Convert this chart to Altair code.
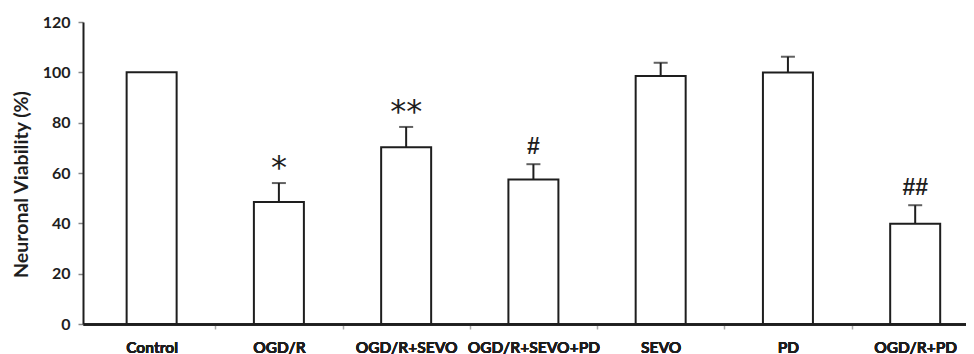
import json
import altair as alt
import pandas as pd

groups = ["Control", "OGD/R", "OGD/R+SEVO", "OGD/R+SEVO+PD", "SEVO", "PD", "OGD/R+PD"]
viability = [100, 48.5, 70.2, 57.4, 98.5, 99.9, 39.8]
errors = [0, 7.5, 8.1, 6.1, 5.3, 6.3, 7.4]
signif = ["", "*", "**", "#", "", "", "##"]
y_ticks = [0, 20, 40, 60, 80, 100, 120]

df = pd.DataFrame({
    "idx": list(range(len(groups))),
    "group": groups,
    "v": viability,
    "e": errors,
    "m": signif,
})

label_expr = "%s[datum.value]" % json.dumps(groups)
xscale = alt.Scale(domain=[-0.5, 6.36], nice=False, zero=False)
yscale = alt.Scale(domain=[0, 120], nice=False)

INK = "#1e1e1e"

y_axis = alt.Axis(
    values=y_ticks, title="Neuronal Viability (%)", grid=False,
    domainColor=INK, domainWidth=2, tickColor="#888888", tickWidth=1.5, tickSize=5,
    labelFont="Lato", labelFontSize=16, labelFontWeight="bold", labelColor=INK,
    labelPadding=8,
    titleFont="Lato", titleFontSize=19.5, titleFontWeight="bold", titleColor=INK,
    titleAngle=-90, titleX=-62, titleY=162, titleAlign="center", titleBaseline="middle",
)

x_label_axis = alt.Axis(
    values=list(range(len(groups))), labelExpr=label_expr, title=None,
    grid=False, ticks=False, domainColor=INK, domainWidth=2,
    labelFont="Lato", labelFontSize=15.5, labelFontWeight="bold", labelColor=INK,
    labelPadding=16, labelBaseline="top", orient="bottom",
)

base = alt.Chart(df)

bars = base.mark_bar(size=50, fill="white", stroke=INK, strokeWidth=2).encode(
    x=alt.X("idx:Q", scale=xscale, axis=x_label_axis),
    y=alt.Y("v:Q", scale=yscale, axis=y_axis),
)

boundary_axis = base.mark_point(opacity=0).encode(
    x=alt.X(
        "idx:Q", scale=xscale,
        axis=alt.Axis(
            values=[i + 0.5 for i in range(len(groups) - 1)], labels=False, title=None,
            grid=False, domain=False, ticks=True, tickColor="#aaaaaa", tickSize=5,
            tickWidth=1.5, orient="bottom",
        ),
    ),
    y=alt.Y("v:Q", scale=yscale, axis=y_axis),
)

err = base.transform_filter("datum.e > 0").transform_calculate(top="datum.v + datum.e")

err_line = err.mark_rule(color=INK, strokeWidth=2).encode(
    x=alt.X("idx:Q", scale=xscale, axis=x_label_axis),
    y=alt.Y("v:Q", scale=yscale, axis=y_axis),
    y2="top:Q",
)
err_cap = err.mark_tick(orient="horizontal", size=14, thickness=2, color=INK).encode(
    x=alt.X("idx:Q", scale=xscale, axis=x_label_axis),
    y=alt.Y("top:Q", scale=yscale, axis=y_axis),
)

ann = base.transform_calculate(top="datum.v + datum.e")
stars = ann.transform_filter("indexof(datum.m, '*') >= 0").mark_text(
    font="DejaVu Sans", fontSize=32, color=INK, baseline="alphabetic", dy=-5
).encode(
    x=alt.X("idx:Q", scale=xscale, axis=x_label_axis),
    y=alt.Y("top:Q", scale=yscale, axis=y_axis),
    text="m:N",
)
hashes = ann.transform_filter("indexof(datum.m, '#') >= 0").mark_text(
    font="Liberation Sans", fontSize=23, fontWeight="bold", color=INK,
    baseline="alphabetic", dy=-10
).encode(
    x=alt.X("idx:Q", scale=xscale, axis=x_label_axis),
    y=alt.Y("top:Q", scale=yscale, axis=y_axis),
    text="m:N",
)

chart = alt.layer(bars, boundary_axis, err_line, err_cap, stars, hashes).resolve_axis(
    x="independent"
).properties(
    width=883, height=302,
    autosize=alt.AutoSizeParams(type="none"),
    padding={"left": 75, "top": 14, "right": 0, "bottom": 30},
    background="white",
).configure_view(stroke=None)

chart.save("out.html", embed_options={"renderer": "svg", "actions": False})
